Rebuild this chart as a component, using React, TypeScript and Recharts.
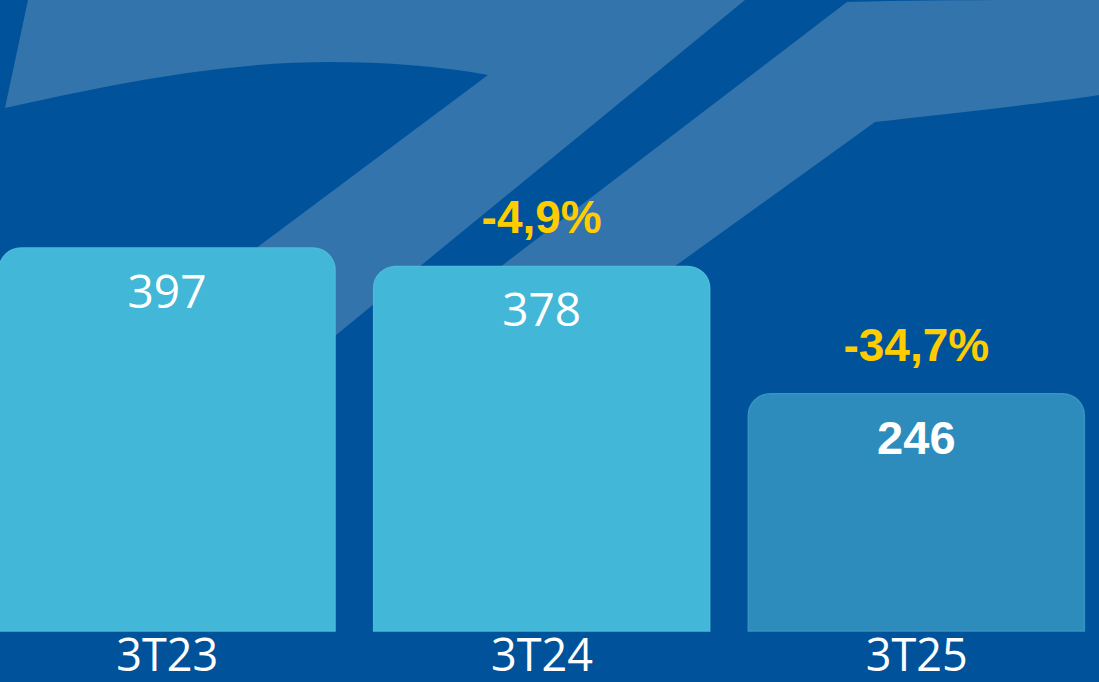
import React from "react";
import { BarChart, Bar, XAxis, YAxis, Cell, LabelList } from "recharts";

const categories = ["3T23", "3T24", "3T25"];
const values = [397, 378, 246];
const changes: (string | null)[] = [null, "-4,9%", "-34,7%"];

const data = categories.map((c, i) => ({ period: c, value: values[i], change: changes[i] }));

const BG = "#00539B";
const SHAPE = "#3474AC";
const BAR_LIGHT = "#42B7D7";
const BAR_DARK = "#2D8CBB";
const YELLOW = "#FFCC00";

const ValueLabel = (props: any) => {
  const { x, y, width, value, index } = props;
  const last = index === values.length - 1;
  return (
    <text
      x={x + width / 2}
      y={y + 60}
      textAnchor="middle"
      fill="#FFFFFF"
      fontSize={last ? 47 : 46}
      fontWeight={last ? 700 : 400}
      fontFamily={last ? "'Liberation Sans', Arial, sans-serif" : "'Open Sans', sans-serif"}
    >
      {value}
    </text>
  );
};

const ChangeLabel = (props: any) => {
  const { x, y, width, value } = props;
  if (!value) return null;
  return (
    <text
      x={x + width / 2}
      y={y - 33}
      textAnchor="middle"
      fill={YELLOW}
      fontSize={46}
      fontWeight={700}
      fontFamily="'Liberation Sans', Arial, sans-serif"
    >
      {value}
    </text>
  );
};

export default function App() {
  return (
    <div
      style={{
        position: "absolute",
        left: 0,
        top: 0,
        width: 1099,
        height: 682,
        background: BG,
        overflow: "hidden",
      }}
    >
      <svg width={1099} height={682} style={{ position: "absolute", left: 0, top: 0 }}>
        <path
          d="M28,0 L745,0 L330,340 L133,340 L488,75 C440,66 386,62 330,62 C245,62 150,75 5,108 Z"
          fill={SHAPE}
        />
        <path
          d="M847,2 C930,0 1020,0 1099,0 L1099,95 C1040,104 960,112 875,122 L628,300 L457,300 Z"
          fill={SHAPE}
        />
      </svg>
      <div style={{ position: "absolute", left: -20, top: 0 }}>
        <BarChart
          width={1124}
          height={682}
          data={data}
          margin={{ top: 4, right: 0, bottom: 0, left: 0 }}
          barSize={336}
        >
          <XAxis
            dataKey="period"
            axisLine={false}
            tickLine={false}
            tickSize={0}
            tickMargin={8}
            height={51}
            interval={0}
            tick={{ fill: "#FFFFFF", fontSize: 45, fontFamily: "'Open Sans', sans-serif" }}
          />
          <YAxis hide domain={[0, 650]} />
          <Bar
            dataKey="value"
            isAnimationActive={false}
            radius={[22, 22, 0, 0]}
            strokeWidth={1.5}
          >
            {data.map((d, i) => (
              <Cell
                key={d.period}
                fill={i === data.length - 1 ? BAR_DARK : BAR_LIGHT}
                stroke={i === data.length - 1 ? "#3894C2" : "#4ABBD9"}
              />
            ))}
            <LabelList dataKey="value" content={<ValueLabel />} />
            <LabelList dataKey="change" content={<ChangeLabel />} />
          </Bar>
        </BarChart>
      </div>
    </div>
  );
}
